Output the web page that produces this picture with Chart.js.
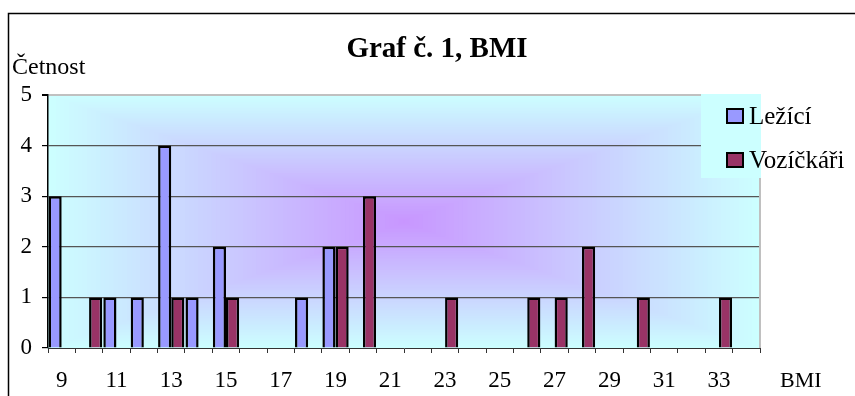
<!DOCTYPE html>
<html>
<head>
<meta charset="utf-8">
<script src="https://cdn.jsdelivr.net/npm/chart.js@4/dist/chart.umd.min.js"></script>
<style>
  body { margin: 0; background: #fff; }
  #wrap { width: 855px; height: 396px; }
</style>
</head>
<body>
<div id="wrap"><canvas id="myChart" width="855" height="396"></canvas></div>
<script>
// BMI categories 9..34
const bmiLabels = ["9","10","11","12","13","14","15","16","17","18","19","20","21","22","23","24","25","26","27","28","29","30","31","32","33","34"];
const lezici =     [3, null, 1, 1, 4, 1, 2, null, null, 1, 2, null, null, null, null, null, null, null, null, null, null, null, null, null, null, null];
const vozickari =  [null, 1, null, null, 1, null, 1, null, null, null, 2, 3, null, null, 1, null, null, 1, 1, 2, null, 1, null, null, 1, null];
const yTicks = [0, 1, 2, 3, 4, 5];

const serif = "'Liberation Serif', 'Times New Roman', serif";
const chart = document.getElementById("myChart");

// rectangular "from centre" gradient like the Excel plot area
const plotBackground = {
    id: "plotBackground",
    beforeDraw: (c) => {
        const {ctx, chartArea: a} = c;
        const cx = (a.left + a.right) / 2;
        const cy = (a.top + a.bottom) / 2;
        const hw = (a.right - a.left) / 2;
        const hh = (a.bottom - a.top) / 2;
        const steps = 80;
        ctx.save();
        for (let i = steps; i >= 0; i--) {
            const t = i / steps;
            const g = Math.round(0x96 + t * (0xff - 0x96));
            const r = Math.round(0xc8 + t * (0xcc - 0xc8));
            ctx.fillStyle = `rgb(${r},${g},255)`;
            ctx.fillRect(cx - hw * t - 1, cy - hh * t - 1, hw * t * 2 + 2, hh * t * 2 + 2);
        }
        ctx.restore();
    },
    beforeDatasetsDraw: (c) => {
        const {ctx, chartArea: a} = c;
        ctx.save();
        // plot border (right side, grey)
        ctx.strokeStyle = "#c0c0c0";
        ctx.lineWidth = 2;
        ctx.beginPath();
        ctx.moveTo(a.right, a.top);
        ctx.lineTo(a.right, a.bottom);
        ctx.stroke();
        // legend box
        ctx.fillStyle = "#ccffff";
        ctx.fillRect(701, a.top - 1, a.right - 701 + 1, 178 - a.top + 1);
        ctx.restore();
    },
    afterDraw: (c) => {
        const ctx = c.ctx;
        ctx.save();
        // outer frame
        ctx.strokeStyle = "#000";
        ctx.lineWidth = 1.5;
        ctx.beginPath();
        ctx.moveTo(8.5, 396);
        ctx.lineTo(8.5, 13.5);
        ctx.lineTo(855, 13.5);
        ctx.stroke();

        ctx.fillStyle = "#000";
        ctx.textBaseline = "alphabetic";
        ctx.textAlign = "center";
        ctx.font = "bold 29px " + serif;
        ctx.fillText("Graf č. 1, BMI", 437, 57);

        ctx.textAlign = "left";
        ctx.font = "24px " + serif;
        ctx.fillText("Četnost", 12, 74);
        ctx.font = "22px " + serif;
        ctx.fillText("BMI", 780, 387);

        // legend
        c.data.datasets.forEach((ds, i) => {
            const y = 109 + i * 44;
            ctx.fillStyle = ds.backgroundColor;
            ctx.fillRect(727, y, 16, 14);
            ctx.strokeStyle = "#000";
            ctx.lineWidth = 2;
            ctx.strokeRect(727, y, 16, 14);
            ctx.fillStyle = "#000";
            ctx.font = "25px " + serif;
            ctx.fillText(ds.label, 749, y + 15);
        });
        ctx.restore();
    }
};

const datasets = [
    {
        label: "Ležící",
        data: lezici,
        backgroundColor: "#9999ff",
        borderColor: "#000",
        borderWidth: 2.5,
    },
    {
        label: "Vozíčkáři",
        data: vozickari,
        backgroundColor: "#993366",
        borderColor: "#000",
        borderWidth: 2.5,
    },
];

const config = {
    type: "bar",
    data: {labels: bmiLabels, datasets},
    options: {
        responsive: false,
        animation: false,
        devicePixelRatio: 1,
        layout: {padding: {left: 0, top: 95, right: 95, bottom: 0}},
        datasets: {bar: {categoryPercentage: 0.96, barPercentage: 1.0}},
        plugins: {
            legend: {display: false},
            title: {display: false},
            tooltip: {enabled: false},
        },
        scales: {
            x: {
                offset: true,
                afterFit: (s) => { s.height = 48; },
                border: {color: "#333", width: 1},
                grid: {
                    offset: true,
                    drawOnChartArea: false,
                    drawTicks: true,
                    tickLength: 5,
                    tickColor: "#333",
                },
                ticks: {
                    autoSkip: false,
                    maxRotation: 0,
                    padding: 14,
                    color: "#000",
                    font: {family: serif, size: 23},
                    callback: (v, i) => (i % 2 === 0 ? bmiLabels[i] : ""),
                },
            },
            y: {
                min: yTicks[0],
                max: yTicks[yTicks.length - 1],
                afterFit: (s) => { s.width = 48; },
                border: {color: "#000", width: 1.5},
                grid: {
                    color: (ctx) => (ctx.tick.value === 5 ? "#c0c0c0" : (ctx.tick.value === 0 ? "rgba(0,0,0,0)" : "#555")),
                    lineWidth: (ctx) => (ctx.tick.value === 5 ? 2 : 1.2),
                    tickLength: 6,
                    tickColor: "#000",
                },
                ticks: {
                    stepSize: 1,
                    padding: 10,
                    color: "#000",
                    font: {family: serif, size: 23},
                },
            },
        },
    },
    plugins: [plotBackground],
};

const myChart = new Chart(chart, config);
</script>
</body>
</html>
